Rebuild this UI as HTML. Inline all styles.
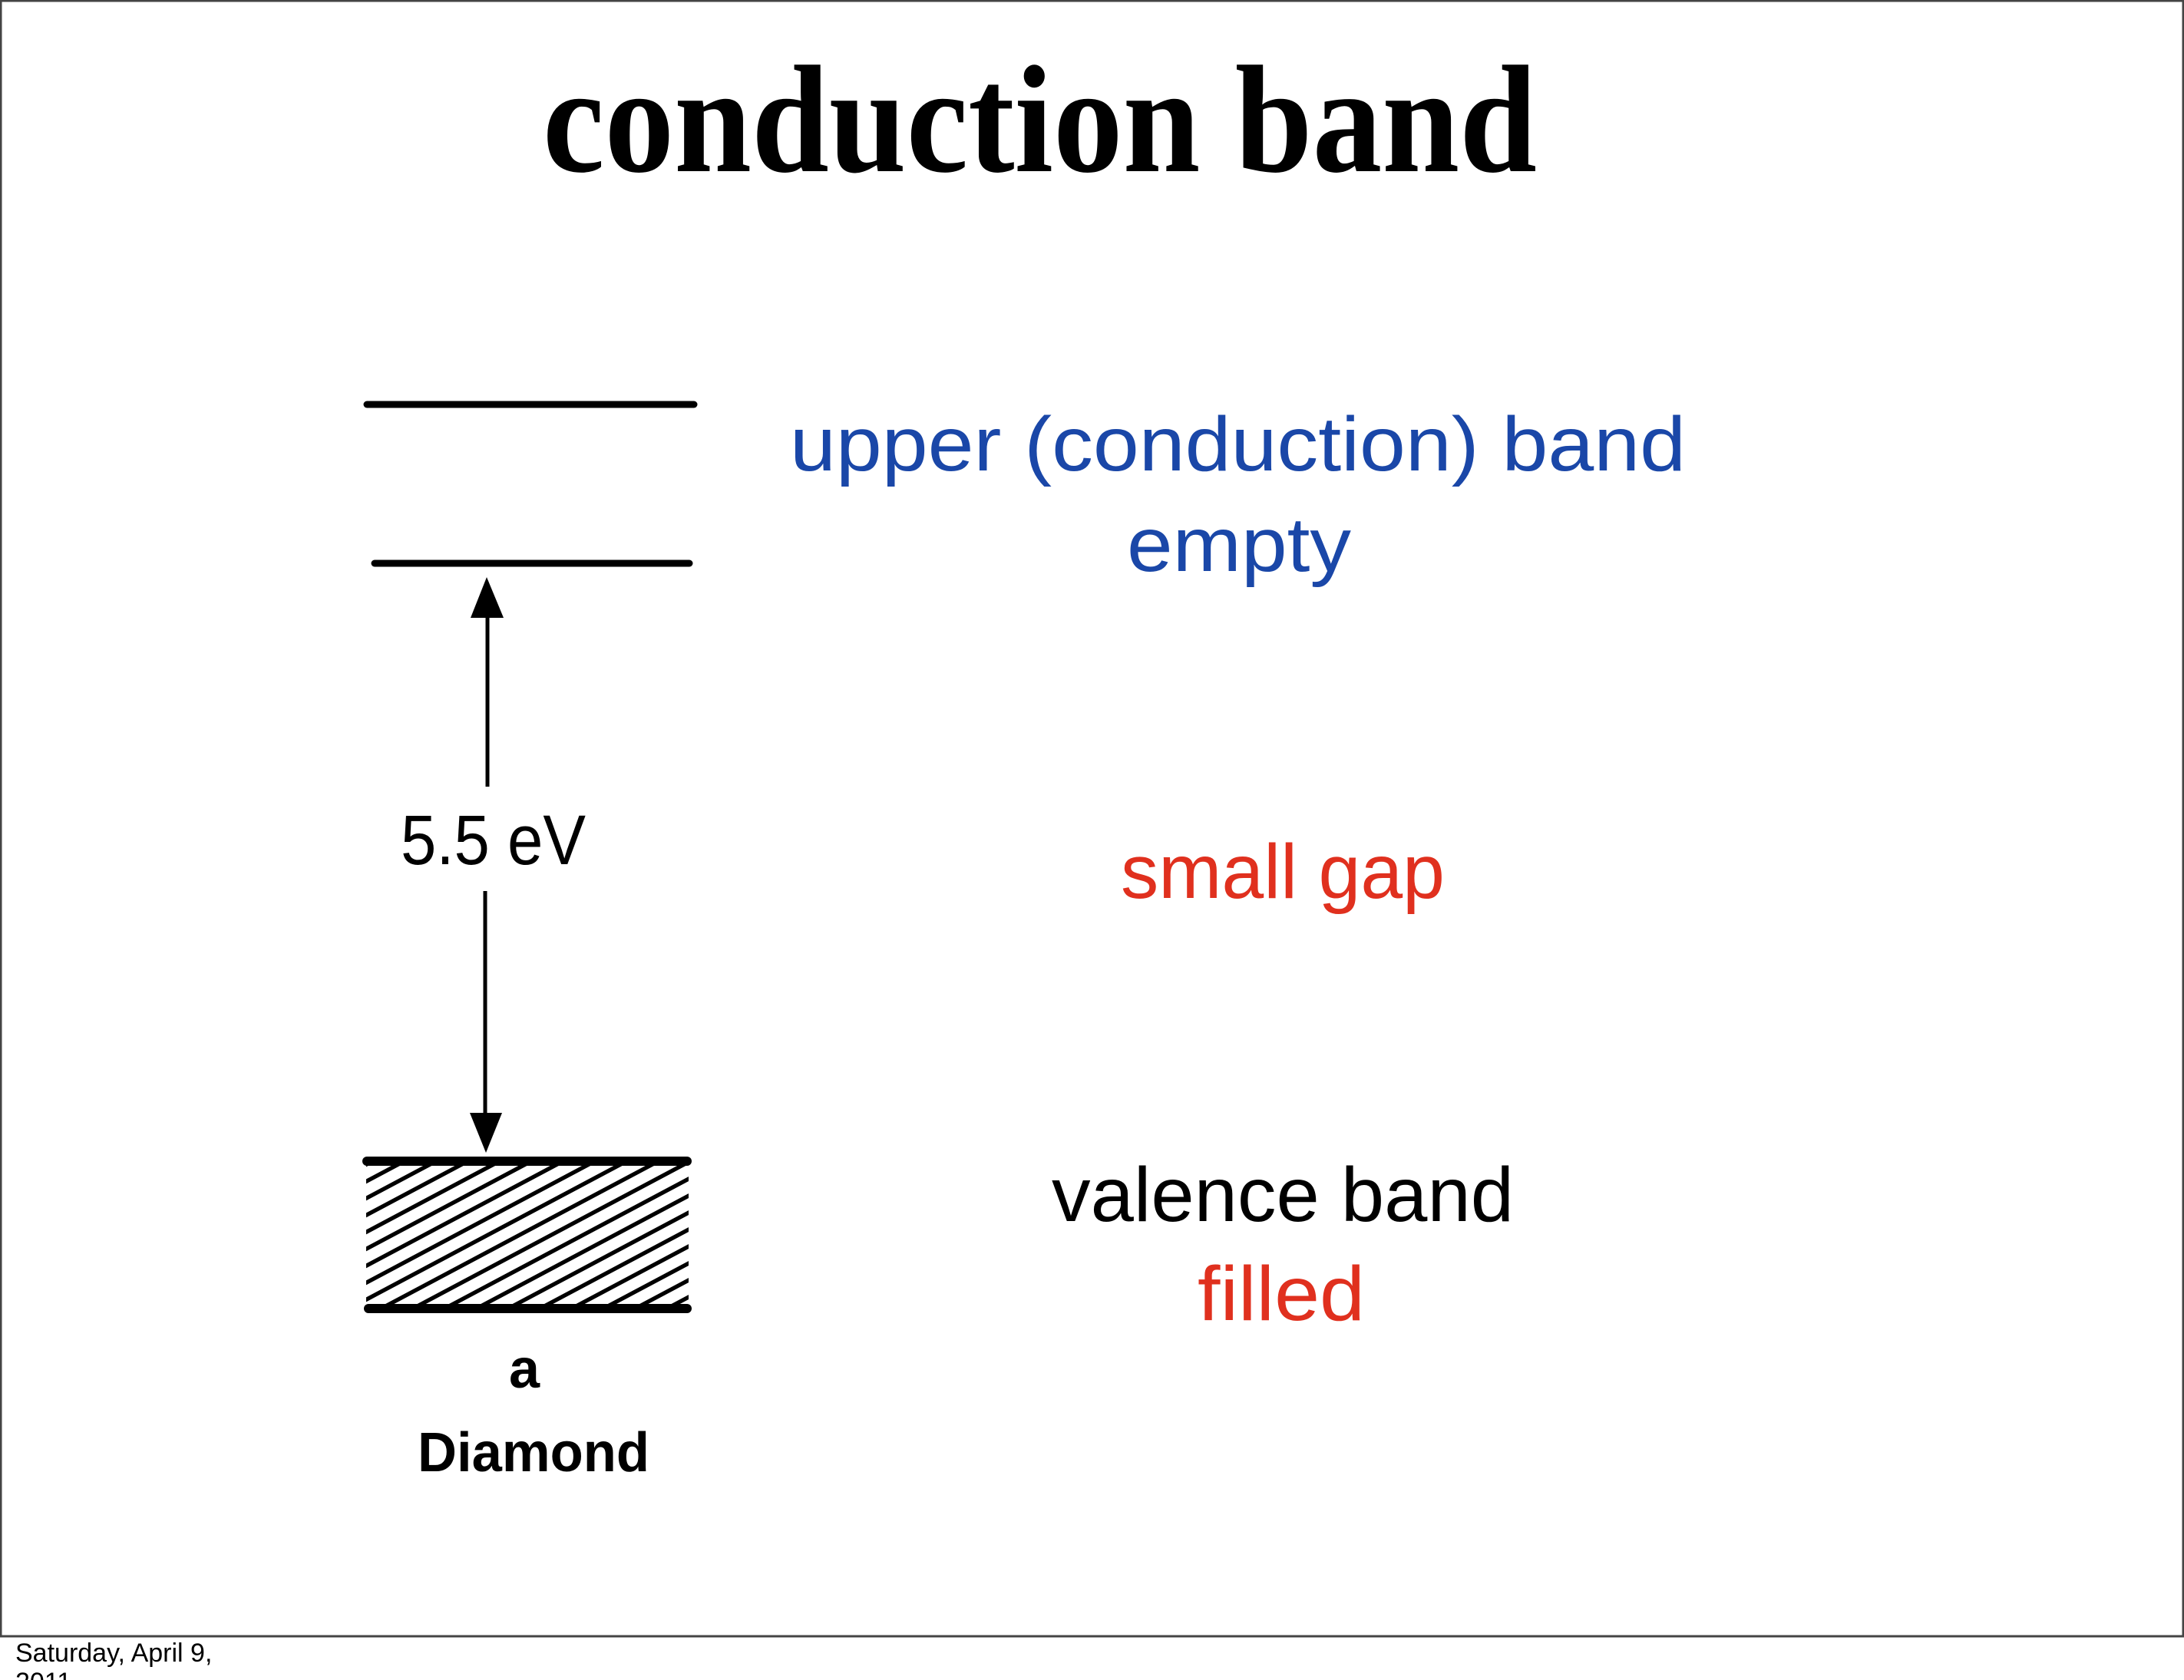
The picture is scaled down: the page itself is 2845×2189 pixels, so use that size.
<!DOCTYPE html>
<html><head><meta charset="utf-8"><style>
html,body{margin:0;padding:0;background:#fff;}
svg{display:block;}
</style></head><body>
<svg width="2845" height="2189" viewBox="0 0 2845 2189" xmlns="http://www.w3.org/2000/svg">
<defs>
<pattern id="h" patternUnits="userSpaceOnUse" width="44" height="22" patternTransform="skewY(-28)">
<rect width="44" height="22" fill="#fff"/>
<rect y="8" width="44" height="6" fill="#000"/>
</pattern>
<clipPath id="c"><rect x="477" y="1515" width="420" height="190"/></clipPath>
</defs>
<rect x="1" y="1" width="2843" height="2131" fill="#fff" stroke="#444" stroke-width="3"/>
<text x="707" y="223" font-family="Liberation Serif, serif" font-weight="bold" font-size="200" textLength="1295" lengthAdjust="spacingAndGlyphs">conduction band</text>
<line x1="478" y1="527" x2="904" y2="527" stroke="#000" stroke-width="9" stroke-linecap="round"/>
<line x1="488" y1="734" x2="898" y2="734" stroke="#000" stroke-width="9" stroke-linecap="round"/>
<line x1="635" y1="790" x2="635" y2="1025" stroke="#000" stroke-width="5"/>
<polygon points="634,752 613,805 656,805" fill="#000"/>
<line x1="632" y1="1161" x2="632" y2="1460" stroke="#000" stroke-width="5"/>
<polygon points="633,1502 612,1450 654,1450" fill="#000"/>
<text x="522" y="1126" font-family="Liberation Sans, sans-serif" font-size="92" textLength="241" lengthAdjust="spacingAndGlyphs">5.5 eV</text>
<rect x="477" y="1515" width="420" height="190" fill="url(#h)" clip-path="url(#c)"/>
<line x1="478" y1="1513" x2="895" y2="1513" stroke="#000" stroke-width="12" stroke-linecap="round"/>
<line x1="480" y1="1705" x2="895" y2="1705" stroke="#000" stroke-width="12" stroke-linecap="round"/>
<text x="683" y="1808" text-anchor="middle" font-family="Liberation Sans, sans-serif" font-weight="bold" font-size="72">a</text>
<text x="544" y="1917" font-family="Liberation Sans, sans-serif" font-weight="bold" font-size="72" textLength="302" lengthAdjust="spacingAndGlyphs">Diamond</text>
<g font-family="Liberation Sans, sans-serif" font-size="100">
<text x="1029" y="613" fill="#1a47a8" textLength="1167" lengthAdjust="spacingAndGlyphs">upper (conduction) band</text>
<text x="1468" y="744" fill="#1a47a8" textLength="292" lengthAdjust="spacingAndGlyphs">empty</text>
<text x="1460" y="1170" fill="#e0301e" textLength="422" lengthAdjust="spacingAndGlyphs">small gap</text>
<text x="1370" y="1591" fill="#000" textLength="602" lengthAdjust="spacingAndGlyphs">valence band</text>
<text x="1560" y="1720" fill="#e0301e" textLength="218" lengthAdjust="spacingAndGlyphs">filled</text>
</g>
<text x="20" y="2165" font-family="Liberation Sans, sans-serif" font-size="34">Saturday, April 9,</text>
<text x="20" y="2203" font-family="Liberation Sans, sans-serif" font-size="34">2011</text>
</svg>
</body></html>
